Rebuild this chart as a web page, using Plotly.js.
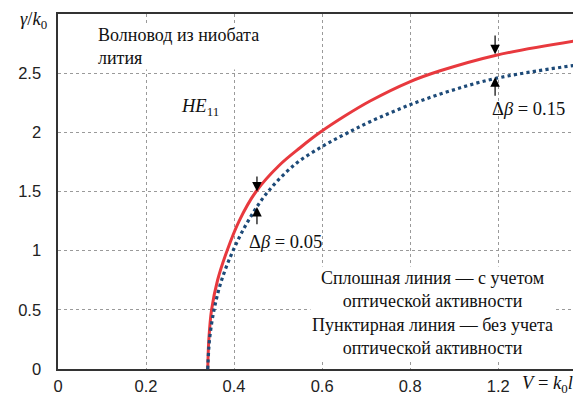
<!DOCTYPE html>
<html><head><meta charset="utf-8">
<script src="https://cdn.plot.ly/plotly-3.0.1.min.js"></script>
<style>html,body{margin:0;padding:0;background:#fff}#c{width:576px;height:397px}</style>
</head><body><div id="c"></div>
<script>
// Solid line (with optical activity)
const redX = [0.3402, 0.3427, 0.3489, 0.3625, 0.3841, 0.4114, 0.450, 0.5023, 0.550, 0.5955, 0.6523, 0.7091, 0.7977, 0.8682, 0.9932, 1.1705];
const redY = [0.00, 0.25, 0.50, 0.75, 1.00, 1.25, 1.50, 1.72, 1.87, 2.00, 2.14, 2.265, 2.425, 2.52, 2.65, 2.77];
// Dotted line (without optical activity)
const blueX = [0.3402, 0.3443, 0.3545, 0.3716, 0.3977, 0.4318, 0.4773, 0.5386, 0.600, 0.6523, 0.7091, 0.7977, 0.8909, 0.9932, 1.1705];
const blueY = [0.00, 0.25, 0.50, 0.75, 1.00, 1.25, 1.50, 1.73, 1.88, 1.985, 2.09, 2.23, 2.35, 2.455, 2.565];
const xTickVals = [0, 0.2, 0.4, 0.6, 0.8, 1.0];
const xTickText = ["0", "0.2", "0.4", "0.6", "0.8", "1.2"];
const yTickVals = [0, 0.5, 1, 1.5, 2, 2.5];
const yTickText = ["0", "0.5", "1", "1.5", "2", "2.5"];

const serif = "Liberation Serif, Times New Roman, serif";
const sans = "Liberation Sans, Arial, sans-serif";

const traces = [
  {x: redX, y: redY, mode: "lines", line: {color: "#e8393e", width: 3, shape: "spline", smoothing: 1}, hoverinfo: "skip"},
  {x: blueX, y: blueY, mode: "lines", line: {color: "#1d4a78", width: 3.2, dash: "dot", shape: "spline", smoothing: 1}, hoverinfo: "skip"}
];

function arrow(x, y, ty) {
  return {x: x, y: y, ax: x, ay: ty, axref: "x", ayref: "y", xref: "x", yref: "y",
    showarrow: true, arrowhead: 2, arrowsize: 1.6, arrowwidth: 1.2, arrowcolor: "#000", text: ""};
}

const layout = {
  width: 576, height: 397,
  margin: {l: 58, r: 3, t: 14, b: 28},
  paper_bgcolor: "#fff", plot_bgcolor: "#fff",
  showlegend: false,
  xaxis: {range: [0, 1.17], tickvals: xTickVals, ticktext: xTickText, showgrid: true,
    gridcolor: "#9a9a9a", griddash: "dot", gridwidth: 1, zeroline: false,
    showline: true, linecolor: "#333", linewidth: 1.6, mirror: true, ticks: "",
    tickfont: {family: sans, size: 16.5, color: "#222"}, ticklabelstandoff: 2, fixedrange: true},
  yaxis: {range: [0, 3], tickvals: yTickVals, ticktext: yTickText, showgrid: true,
    gridcolor: "#9a9a9a", griddash: "dot", gridwidth: 1, zeroline: false,
    showline: true, linecolor: "#333", linewidth: 1.6, ticks: "",
    tickfont: {family: sans, size: 16.5, color: "#222"}, ticklabelstandoff: 12, fixedrange: true},
  annotations: [
    {x: 0.086, y: 2.92, xref: "x", yref: "y", xanchor: "left", yanchor: "top", align: "left",
      text: "Волновод из ниобата<br>лития", showarrow: false, bgcolor: "#fff",
      font: {family: serif, size: 18, color: "#111"}},
    {x: 0.323, y: 2.21, xref: "x", yref: "y", text: "<i>HE</i><sub>11</sub>", showarrow: false,
      font: {family: serif, size: 18.5, color: "#111"}},
    {x: 0.516, y: 1.076, xref: "x", yref: "y", text: "Δ<i>β</i> = 0.05", showarrow: false,
      font: {family: serif, size: 18.5, color: "#111"}},
    {x: 1.068, y: 2.20, xref: "x", yref: "y", text: "Δ<i>β</i> = 0.15", showarrow: false,
      font: {family: serif, size: 18.5, color: "#111"}},
    {x: 0.85, y: 0.47, xref: "x", yref: "y", align: "center",
      text: "Сплошная линия — с учетом<br>оптической активности<br>Пунктирная линия — без учета<br>оптической активности",
      showarrow: false, bgcolor: "#fff", font: {family: serif, size: 18, color: "#111"}},
    {x: -0.0485, y: 0.983, xref: "paper", yref: "paper", xanchor: "center", yanchor: "middle",
      text: "<i>γ</i>/<i>k</i><sub>0</sub>", showarrow: false,
      font: {family: serif, size: 18.5, color: "#111"}},
    {x: 0.897, y: -0.045, xref: "paper", yref: "paper", xanchor: "left", yanchor: "middle",
      text: "<i>V</i> = <i>k</i><sub>0</sub><i>l</i>", showarrow: false,
      font: {family: serif, size: 18.5, color: "#111"}},
    arrow(0.452, 1.50, 1.64),
    arrow(0.452, 1.37, 1.21),
    arrow(0.993, 2.66, 2.83),
    arrow(0.993, 2.466, 2.297)
  ]
};

Plotly.newPlot("c", traces, layout, {displayModeBar: false, staticPlot: true});
</script></body></html>
